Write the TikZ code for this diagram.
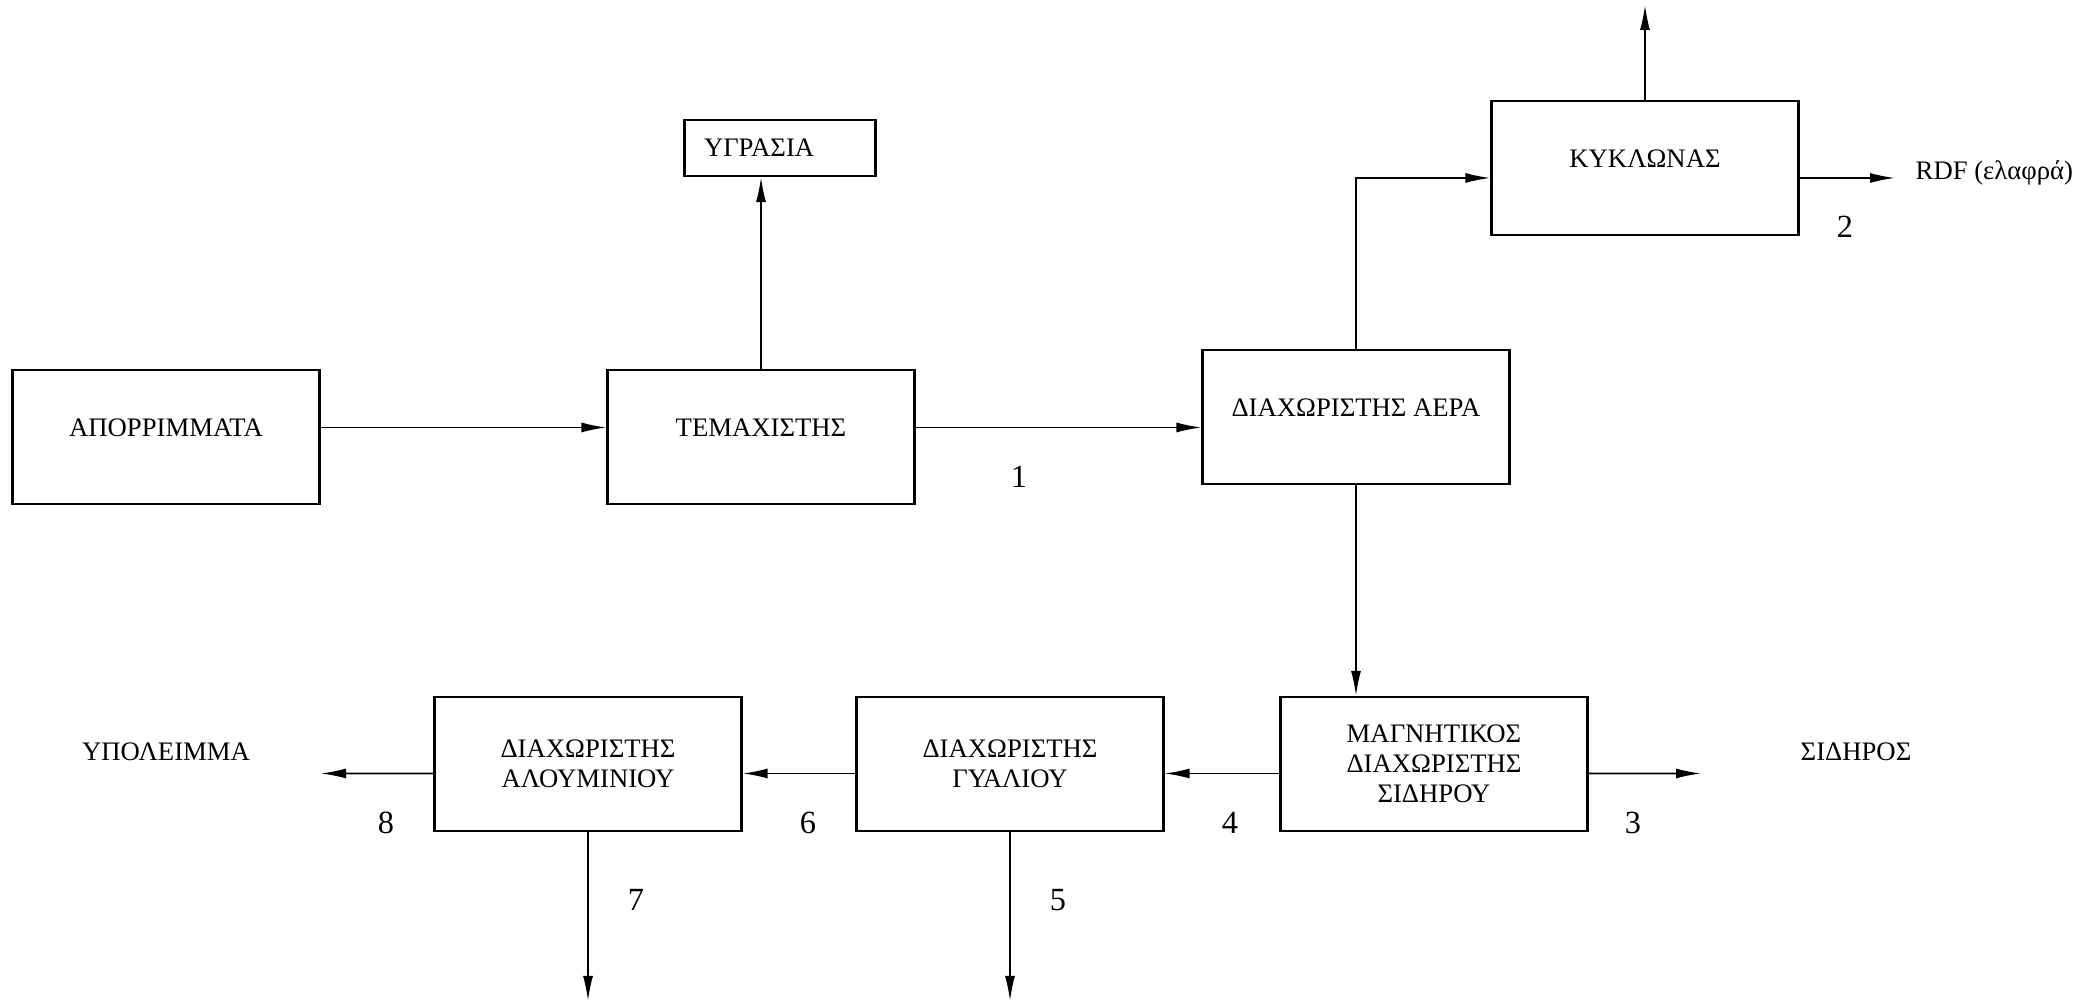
\documentclass[tikz,border=0pt]{standalone}
\usepackage{fontspec}
\setmainfont{Liberation Serif}
\usetikzlibrary{arrows.meta}

\tikzset{
	>={Latex[length=2.5mm,width=1mm]},
	block/.style={draw, line width=0.6pt, minimum width=3.07cm, minimum height=1.34cm, inner sep=0pt},
	oneline/.style={text height=1.77mm, text depth=1.9mm},
	multi/.style={align=center},
	lbl/.style={inner sep=0pt},
	num/.style={inner sep=0pt, font=\fontsize{9.2}{11}\selectfont},
	flow/.style={->, line width=0.5pt}
}

\begin{document}
\begin{tikzpicture}[font=\fontsize{7.6}{8.5}\selectfont]
	\useasboundingbox (0,0) rectangle (20.95,10.03);

	% upper row
	\node[block, oneline] (apor) at (1.66,5.66) {ΑΠΟΡΡΙΜΜΑΤΑ};
	\node[block, oneline] (temax) at (7.61,5.66) {ΤΕΜΑΧΙΣΤΗΣ};
	\node[block, oneline] (aera) at (13.56,5.86) {ΔΙΑΧΩΡΙΣΤΗΣ ΑΕΡΑ};
	\node[block, oneline] (kykl) at (16.45,8.35) {ΚΥΚΛΩΝΑΣ};
	\node[draw, line width=0.6pt, minimum width=1.91cm, minimum height=0.56cm,
		inner xsep=0.195cm, inner ysep=0pt, text width=1.52cm, align=left] (ygr) at (7.80,8.55) {ΥΓΡΑΣΙΑ};

	% lower row
	\node[block, multi] (magn) at (14.34,2.39) {ΜΑΓΝΗΤΙΚΟΣ\\ΔΙΑΧΩΡΙΣΤΗΣ\\ΣΙΔΗΡΟΥ};
	\node[block, multi] (gyal) at (10.10,2.39) {ΔΙΑΧΩΡΙΣΤΗΣ\\ΓΥΑΛΙΟΥ};
	\node[block, multi] (aloum) at (5.88,2.39) {ΔΙΑΧΩΡΙΣΤΗΣ\\ΑΛΟΥΜΙΝΙΟΥ};

	% outputs
	\coordinate (gasout) at (16.45,9.98);
	\coordinate (rdfend) at (18.95,8.25);
	\coordinate (sidend) at (17.01,2.295);
	\coordinate (ypolend) at (3.21,2.295);
	\coordinate (glassout) at (10.10,0.02);
	\coordinate (aluout) at (5.88,0.02);
	\node[lbl, anchor=west] (rdf) at (19.15,8.30) {RDF (ελαφρά)};
	\node[lbl] (sid) at (18.56,2.51) {ΣΙΔΗΡΟΣ};
	\node[lbl] (ypol) at (1.66,2.51) {ΥΠΟΛΕΙΜΜΑ};

	% stream numbers
	\node[num] (n1) at (10.19,5.26) {1};
	\node[num] (n2) at (18.45,7.76) {2};
	\node[num] (n3) at (16.33,1.80) {3};
	\node[num] (n4) at (12.30,1.80) {4};
	\node[num] (n5) at (10.58,1.03) {5};
	\node[num] (n6) at (8.08,1.80) {6};
	\node[num] (n7) at (6.36,1.03) {7};
	\node[num] (n8) at (3.86,1.80) {8};

	%draw upper arrows
	\draw[flow] ([yshift=0.95mm]apor.east) -- ([yshift=0.95mm]temax.west);
	\draw[flow] (temax.north) -- (temax.north |- ygr.south);
	\draw[flow] ([yshift=0.95mm]temax.east) -- ([yshift=0.95mm]temax.east -| aera.west);
	\draw[flow] (aera.north) |- ([yshift=-1mm]kykl.west);
	\draw[flow] (kykl.north) -- (gasout);
	\draw[flow] ([yshift=-1mm]kykl.east) -- (rdfend);
	\draw[flow] (aera.south) -- (aera.south |- magn.north);

	%draw lower arrows
	\draw[flow] ([yshift=-0.95mm]magn.east) -- (sidend);
	\draw[flow] ([yshift=-0.95mm]magn.west) -- ([yshift=-0.95mm]gyal.east);
	\draw[flow] ([yshift=-0.95mm]gyal.west) -- ([yshift=-0.95mm]aloum.east);
	\draw[flow] ([yshift=-0.95mm]aloum.west) -- (ypolend);
	\draw[flow] (gyal.south) -- (glassout);
	\draw[flow] (aloum.south) -- (aluout);

\end{tikzpicture}
\end{document}
